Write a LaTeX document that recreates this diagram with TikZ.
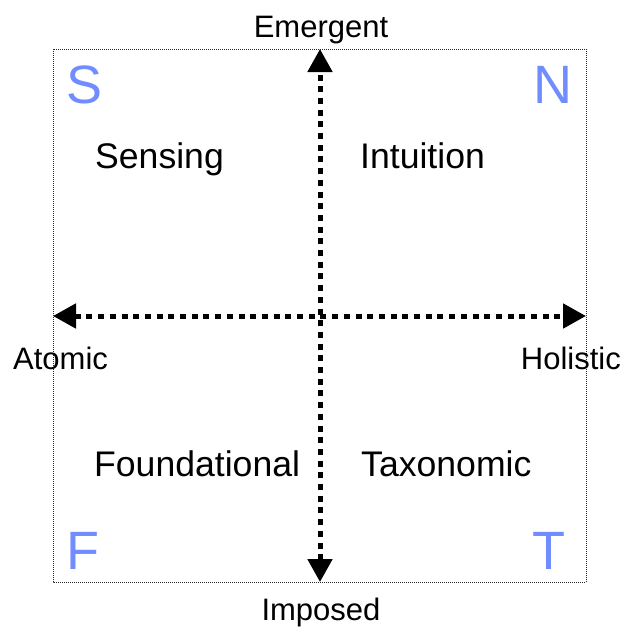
\documentclass[tikz,border=0pt]{standalone}
\usepackage{fontspec}
\setmainfont{Liberation Sans}
\usetikzlibrary{arrows.meta}
\definecolor{letterblue}{RGB}{112,140,255}
\tikzset{
  frame/.style={draw=black!85, line width=1pt, dash pattern=on 1pt off 1pt},
  axis/.style={line width=5pt, dash pattern=on 6pt off 5.7pt, {Triangle[length=23pt,width=24pt]}-{Triangle[length=23pt,width=24pt]}},
  quad/.style={inner sep=0pt, font=\fontsize{35.6}{40}\selectfont},
  axlabel/.style={inner sep=0pt, font=\fontsize{31}{35}\selectfont},
  letter/.style={inner sep=0pt, anchor=base west, text=letterblue, font=\fontsize{54}{60}\selectfont}
}
\begin{document}
\begin{tikzpicture}[x=1pt,y=-1pt]
\useasboundingbox (0,0) rectangle (622,627);
\draw[frame] (53,49) rectangle (586,582);
\coordinate (top) at (320,49);
\coordinate (bottom) at (320,582);
\coordinate (left) at (53,316);
\coordinate (right) at (586,316);
\draw[axis] (bottom) -- (top);
\draw[axis] (left) -- (right);
\node[quad, anchor=base west] (sensing) at (95,168) {Sensing};
\node[quad, anchor=base west] (intuition) at (360,168) {Intuition};
\node[quad, anchor=base west] (foundational) at (94,476) {Foundational};
\node[quad, anchor=base west] (taxonomic) at (361,476) {Taxonomic};
\node[axlabel, anchor=base] (emergent) at (321,37) {Emergent};
\node[axlabel, anchor=base] (imposed) at (321,620) {Imposed};
\node[axlabel, anchor=base west] (atomic) at (13,369) {Atomic};
\node[axlabel, anchor=base east] (holistic) at (621,369) {Holistic};
\node[letter] (S) at (66,103) {S};
\node[letter] (N) at (533,103) {N};
\node[letter] (F) at (66,569) {F};
\node[letter] (T) at (532,569) {T};
\end{tikzpicture}
\end{document}
